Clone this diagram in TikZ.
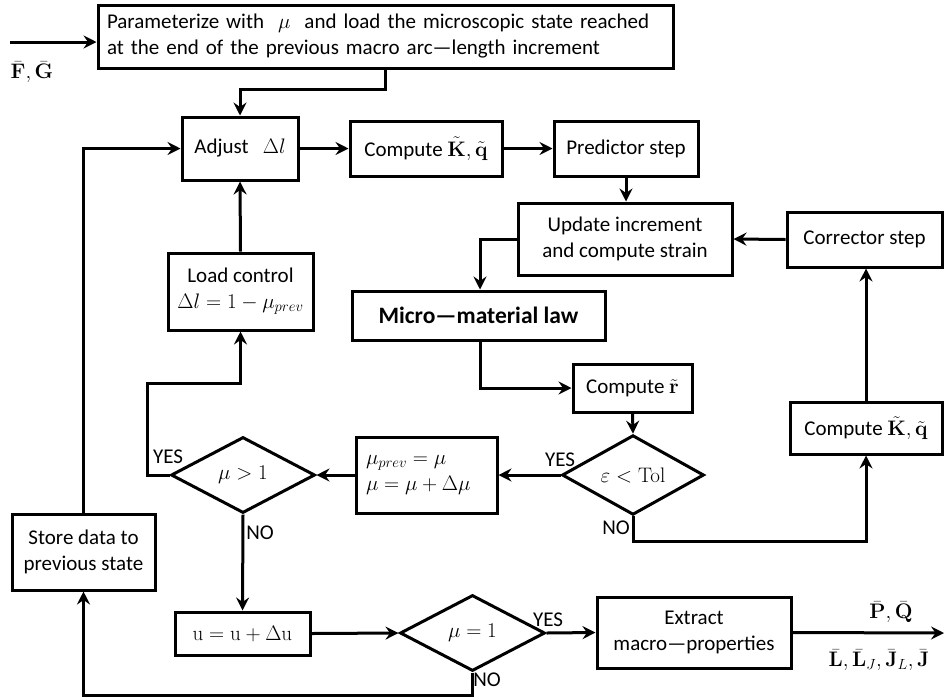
\RequirePackage{fix-cm}
\documentclass[tikz,border=0pt]{standalone}
\usepackage{amsmath}
\usepackage[no-math]{fontspec}
\setmainfont{Carlito}
\usetikzlibrary{arrows.meta,shapes.geometric,calc}
\begin{document}
\begin{tikzpicture}[x=1pt,y=-1pt,
  box/.style={draw, line width=3pt, inner sep=2pt, align=center, font=\fontsize{21}{26}\selectfont},
  dia/.style={draw, shape=diamond, line width=3pt, inner sep=0pt, font=\fontsize{21}{26}\selectfont},
  conn/.style={line width=3pt, -{Stealth[length=13pt,width=13pt,inset=4.5pt]}},
  lbl/.style={font=\fontsize{21}{24}\selectfont, inner sep=0pt},
  mlbl/.style={font=\fontsize{21}{24}\selectfont, inner sep=0pt}]
\useasboundingbox (0,0) rectangle (944,697);
% boxes
\node[box, minimum width=575pt, minimum height=63pt, text width=557pt, align=left] (top) at (385.5,36.5)
  {Parameterize with \ $\mu$ \ and load the microscopic state reached\\at the end of the previous macro arc---length increment};
\node[box, minimum width=116pt, minimum height=63pt] (adj) at (240,148.5) {Adjust \ \ $\Delta l$};
\node[box, minimum width=152pt, minimum height=55pt] (ckq) at (426,148.5) {Compute $\tilde{\mathbf{K}},\tilde{\mathbf{q}}$};
\node[box, minimum width=144pt, minimum height=55pt] (pred) at (626,148.5) {Predictor step};
\node[box, minimum width=214pt, minimum height=72pt] (upd) at (625,239) {Update increment\\and compute strain};
\node[box, minimum width=155pt, minimum height=55pt] (cor) at (864.5,239.5) {Corrector step};
\node[box, minimum width=253pt, minimum height=49pt, font=\fontsize{23.5}{28}\selectfont\bfseries] (micro) at (478.5,315.5) {Micro---material law};
\node[box, minimum width=119pt, minimum height=48pt] (cr) at (632.5,388) {Compute $\tilde{\mathbf{r}}$};
\node[dia, minimum width=142pt, minimum height=75pt] (eps) at (633,475) {$\varepsilon<\mathrm{Tol}$};
\node[box, minimum width=152pt, minimum height=52pt] (ckq2) at (866,428) {Compute $\tilde{\mathbf{K}},\tilde{\mathbf{q}}$};
\node[box, minimum width=141pt, minimum height=76pt, text width=121pt, align=left] (mup) at (426.5,475)
  {$\mu_{prev}=\mu$\\$\mu=\mu+\Delta\mu$};
\node[dia, minimum width=144pt, minimum height=76pt] (gt) at (243,475) {$\mu>1$};
\node[box, minimum width=145pt, minimum height=77pt] (load) at (240.5,291.5) {Load control\\$\Delta l=1-\mu_{prev}$};
\node[box, minimum width=143pt, minimum height=76pt] (store) at (83.5,552) {Store data to\\previous state};
\node[box, minimum width=135pt, minimum height=43pt] (u) at (242.5,633.5) {$\mathrm{u}=\mathrm{u}+\Delta\mathrm{u}$};
\node[dia, minimum width=145pt, minimum height=76pt] (eq) at (472.5,633) {$\mu=1$};
\node[box, minimum width=194pt, minimum height=71pt] (ext) at (694,632.5) {Extract\\macro---properties};
% coordinates
\coordinate (inF) at (10,42);
\coordinate (outP) at (944,633);
\coordinate (c1) at (147,383);
% connectors
\draw[conn] (inF) -- (inF -| top.west);
\draw[conn] (top.south) -- ++(0,20) -| (adj.north);
\draw[conn] (adj) -- (ckq);
\draw[conn] (ckq) -- (pred);
\draw[conn] (pred.south) -- (pred.south |- upd.north);
\draw[conn] (cor.west) -- (upd.east);
\draw[conn] (upd.west) -| ([xshift=1.5pt]micro.north);
\draw[conn] ([xshift=1.5pt]micro.south) |- (cr.west);
\draw[conn] (cr.south) -- (eps.north);
\draw[conn] (eps.west) -- (mup.east);
\draw[conn] (eps.south) -- ++(0,25) -| (ckq2.south);
\draw[conn] (ckq2.north) -- (ckq2.north |- cor.south);
\draw[conn] (mup.west) -- (gt.east);
\draw[conn] (gt.west) -| (c1) -| (load.south);
\draw[conn] (load.north) -- (adj.south);
\draw[conn] (gt.south) -- (u.north);
\draw[conn] (u.east) -- (eq.west);
\draw[conn] (eq.east) -- (ext.west);
\draw[conn] (ext.east) -- (outP);
\draw[conn] (eq.south) -- ++(0,23) -| (store.south);
\draw[conn] (store.north) |- (adj.west);
% labels
\node[mlbl] (lF) at (32,72) {$\bar{\mathbf{F}},\bar{\mathbf{G}}$};
\node[lbl] (y1) at (168,457) {YES};
\node[lbl] (y2) at (560,460) {YES};
\node[lbl] (n1) at (616,528) {NO};
\node[lbl] (n2) at (260,533) {NO};
\node[lbl] (y3) at (548,620) {YES};
\node[lbl] (n3) at (487,680) {NO};
\node[mlbl] (lP) at (891,612) {$\bar{\mathbf{P}},\bar{\mathbf{Q}}$};
\node[mlbl] (lL) at (879,660) {$\bar{\mathbf{L}},\bar{\mathbf{L}}_J,\bar{\mathbf{J}}_L,\bar{\mathbf{J}}$};
\end{tikzpicture}
\end{document}
